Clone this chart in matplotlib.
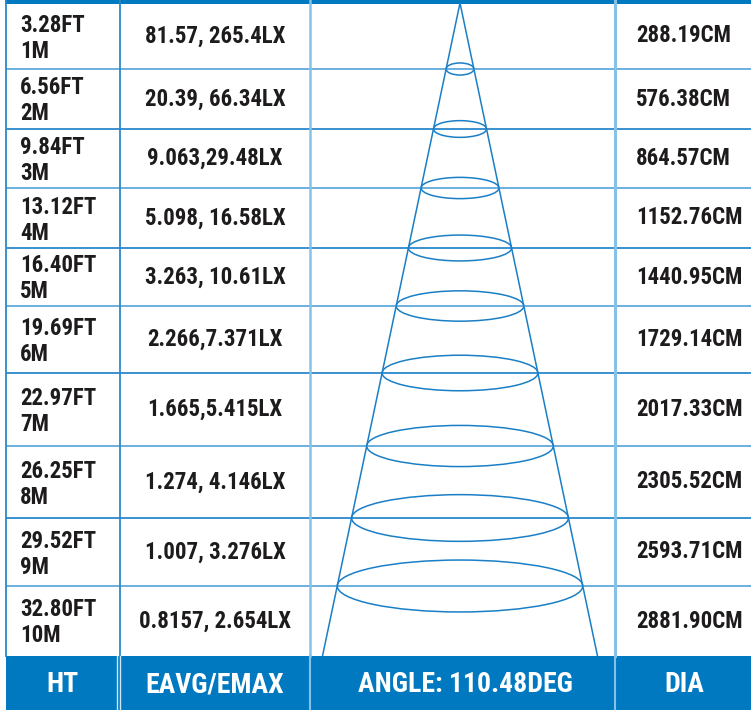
import matplotlib
matplotlib.use("Agg")
import matplotlib.pyplot as plt
from matplotlib.patches import Ellipse, Rectangle
from matplotlib import font_manager as fm

# ---------------- data ----------------
height_ft = ["3.28FT", "6.56FT", "9.84FT", "13.12FT", "16.40FT",
             "19.69FT", "22.97FT", "26.25FT", "29.52FT", "32.80FT"]
height_m = ["1M", "2M", "3M", "4M", "5M", "6M", "7M", "8M", "9M", "10M"]
eavg_emax = ["81.57, 265.4LX", "20.39, 66.34LX", "9.063,29.48LX",
             "5.098, 16.58LX", "3.263, 10.61LX", "2.266,7.371LX",
             "1.665,5.415LX", "1.274, 4.146LX", "1.007, 3.276LX",
             "0.8157, 2.654LX"]
diameter_cm = [288.19, 576.38, 864.57, 1152.76, 1440.95,
               1729.14, 2017.33, 2305.52, 2593.71, 2881.90]
beam_angle = 110.48
headers = ["HT", "EAVG/EMAX", "ANGLE: %.2fDEG" % beam_angle, "DIA"]

# ---------------- font choice ----------------
names = {f.name for f in fm.fontManager.ttflist}
cond = [f for f in fm.fontManager.ttflist
        if ("Condensed" in f.name or "Narrow" in f.name
            or f.stretch in ("condensed", "semi-condensed", "extra-condensed"))]
pref = ["Roboto Condensed", "Liberation Sans Narrow", "DejaVu Sans Condensed",
        "Open Sans Condensed", "Noto Sans Condensed"]
FONT = [n for n in pref if n in names]
STRETCH = "normal"
if not FONT and cond:
    FONT = [cond[0].name]
    STRETCH = cond[0].stretch
if not FONT:
    FONT = ["DejaVu Sans"]
    STRETCH = "condensed"
FONT = FONT + ["DejaVu Sans"]

# ---------------- layout ----------------
W, H = 751, 710
row_edges = [3, 69, 129, 188, 248, 306, 373, 446, 518, 586, 656]
BLUE = "#0079c1"
LINE = "#2b88cc"
LIGHT = "#86c2e8"
TXT = "#1e1b1c"

fig = plt.figure(figsize=(W / 100, H / 100), dpi=100)
ax = fig.add_axes([0, 0, 1, 1])
ax.set_xlim(0, W)
ax.set_ylim(H, 0)
ax.axis("off")

ax.add_patch(Rectangle((5, 0), W - 5, 3.5, color=BLUE, lw=0))
for i, y in enumerate(row_edges[1:-1]):
    c = LINE if i % 2 else "#5fa9dc"
    ax.plot([6, W], [y, y], color=c, lw=1.3, solid_capstyle="butt")
ax.plot([6, 6], [0, 656], color=LINE, lw=1.3)
ax.plot([120, 120], [0, 656], color=LINE, lw=1.3)
ax.plot([310, 310], [0, 656], color=LIGHT, lw=1.8)
ax.plot([615, 615], [0, 656], color=LIGHT, lw=2.2)

apex_x, apex_y = 460, 3
half_bottom = 137.5
bot = row_edges[-1]
ax.plot([apex_x, apex_x - half_bottom], [apex_y, bot], color="#1a7fc6", lw=1.1)
ax.plot([apex_x, apex_x + half_bottom], [apex_y, bot], color="#1a7fc6", lw=1.1)
for y in row_edges[1:-1]:
    w = 2 * half_bottom * (y - apex_y) / (bot - apex_y)
    h = 7 + 0.183 * w
    ax.add_patch(Ellipse((apex_x, y), w, h, fill=False, ec="#1a7fc6", lw=1.1))

fs = 16.5
kw = dict(family=FONT, stretch=STRETCH, weight="heavy", size=fs, color=TXT)
for i in range(len(height_ft)):
    y0, y1 = row_edges[i], row_edges[i + 1]
    yc = (y0 + y1) / 2 + 2
    ax.text(20, yc - 13, height_ft[i], ha="left", va="center", **kw)
    ax.text(20, yc + 13, height_m[i], ha="left", va="center", **kw)
    ax.text(215, (y0 + y1) / 2, eavg_emax[i], ha="center", va="center", **kw)
    ax.text(636, (y0 + y1) / 2, "%.2fCM" % diameter_cm[i], ha="left",
            va="center", **kw)

ax.add_patch(Rectangle((6, 656), W - 6, H - 656, color=BLUE, lw=0))
ax.plot([116.5, 116.5], [656, H], color="#cfe6f6", lw=1)
ax.plot([119.5, 119.5], [656, H], color="#cfe6f6", lw=1)
ax.plot([310, 310], [656, H], color=LIGHT, lw=1.5)
ax.plot([615, 615], [656, H], color=LIGHT, lw=1.5)
centers = [62, 215, 465, 684]
for cx, t in zip(centers, headers):
    ax.text(cx, 685, t, family=FONT, stretch=STRETCH, weight="heavy", size=20,
            color="white", ha="center", va="center")

fig.savefig("out.png", dpi=100)
